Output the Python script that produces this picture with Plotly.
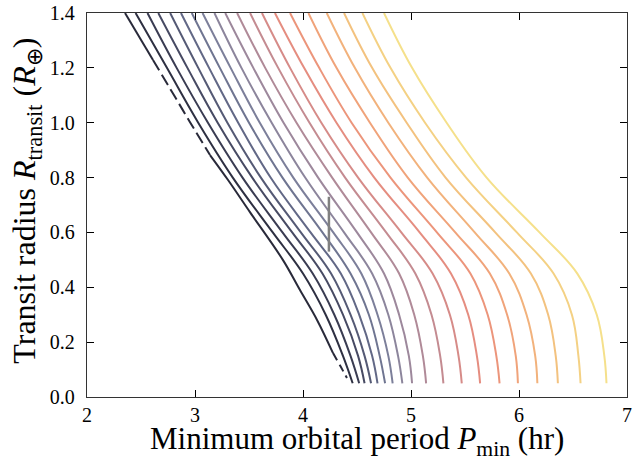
import plotly.graph_objects as go

# ---------------- data ----------------
# radius levels (R_earth) at which each curve's period was read
radius_levels = [1.4, 1.2, 1.0, 0.8, 0.6, 0.45, 0.3, 0.15, 0.05]

# leftmost (darkest) curve, read point by point (it is broken into dashes)
c00_period = [2.352, 2.611, 2.806, 2.954, 3.139, 3.306, 3.509, 3.815, 3.972, 4.130, 4.278, 4.350, 4.407]
c00_radius = [1.40, 1.229, 1.10, 1.002, 0.882, 0.791, 0.674, 0.499, 0.390, 0.281, 0.160, 0.110, 0.069]

c01 = [2.45, 2.74, 3.03, 3.35, 3.72, 4.00, 4.21, 4.37, 4.46]
c02 = [2.56, 2.83, 3.12, 3.44, 3.81, 4.09, 4.29, 4.44, 4.52]
c03 = [2.66, 2.93, 3.21, 3.53, 3.90, 4.18, 4.37, 4.51, 4.57]
c04 = [2.77, 3.03, 3.30, 3.61, 3.98, 4.26, 4.44, 4.57, 4.63]
c05 = [2.87, 3.13, 3.40, 3.70, 4.07, 4.35, 4.52, 4.64, 4.69]
c06 = [2.97, 3.23, 3.50, 3.81, 4.18, 4.44, 4.61, 4.71, 4.76]
c07 = [3.07, 3.33, 3.60, 3.91, 4.28, 4.54, 4.69, 4.79, 4.83]
c08 = [3.18, 3.43, 3.71, 4.02, 4.38, 4.64, 4.79, 4.88, 4.92]
c09 = [3.28, 3.54, 3.82, 4.14, 4.50, 4.75, 4.89, 4.98, 5.01]
c10 = [3.39, 3.65, 3.94, 4.27, 4.63, 4.89, 5.03, 5.11, 5.14]
c11 = [3.51, 3.77, 4.06, 4.39, 4.77, 5.04, 5.19, 5.27, 5.30]
c12 = [3.62, 3.88, 4.17, 4.51, 4.91, 5.20, 5.36, 5.44, 5.47]
c13 = [3.74, 4.01, 4.31, 4.66, 5.08, 5.37, 5.53, 5.61, 5.64]
c14 = [3.88, 4.15, 4.45, 4.81, 5.24, 5.55, 5.71, 5.79, 5.82]
c15 = [4.05, 4.31, 4.62, 4.97, 5.41, 5.73, 5.89, 5.97, 5.99]
c16 = [4.22, 4.48, 4.79, 5.15, 5.59, 5.91, 6.07, 6.15, 6.17]
c17 = [4.38, 4.64, 4.96, 5.32, 5.78, 6.11, 6.27, 6.34, 6.36]
c18 = [4.55, 4.81, 5.13, 5.51, 5.98, 6.32, 6.49, 6.55, 6.57]
c19 = [4.75, 5.01, 5.33, 5.70, 6.19, 6.54, 6.72, 6.79, 6.81]

# observed planet (period in hr, radius and its uncertainty in R_earth)
planet_period = [4.24]
planet_radius = [0.63]
planet_radius_err = [0.10]

x_ticks = [2, 3, 4, 5, 6, 7]
y_ticks = [0.0, 0.2, 0.4, 0.6, 0.8, 1.0, 1.2, 1.4]
y_tick_labels = ["0.0", "0.2", "0.4", "0.6", "0.8", "1.0", "1.2", "1.4"]

# ---------------- styles ----------------
colors = ["#292a3a", "#2e3042", "#3a3c52", "#474a63", "#555a75", "#626886",
          "#6f7591", "#7c7f9a", "#8c859c", "#9d889c", "#b08a98", "#c48b91",
          "#d68b88", "#e58d80", "#ec957b", "#f0a37a", "#f2b27c", "#f3c27f",
          "#f4d184", "#f5e08b"]
LW = 2.0
FONT = "Liberation Serif"

fig = go.Figure()

# leftmost curve: solid / dashed pieces
segments = [(0, 2, "solid"), (1, 5, "12px,5px"), (4, 11, "solid"), (10, 13, "8px,5px")]
for a, b, dash in segments:
    fig.add_trace(go.Scatter(
        x=c00_period[a:b], y=c00_radius[a:b], mode="lines",
        line=dict(color=colors[0], width=LW, dash=dash, shape="spline", smoothing=1.0),
        hoverinfo="skip"))

other_curves = [c01, c02, c03, c04, c05, c06, c07, c08, c09, c10,
                c11, c12, c13, c14, c15, c16, c17, c18, c19]
for i, xs in enumerate(other_curves, start=1):
    fig.add_trace(go.Scatter(
        x=xs, y=radius_levels, mode="lines",
        line=dict(color=colors[i], width=LW, shape="spline", smoothing=1.1),
        hoverinfo="skip"))

fig.add_trace(go.Scatter(
    x=planet_period, y=planet_radius, mode="markers",
    marker=dict(size=1, color="rgba(0,0,0,0)"),
    error_y=dict(type="data", array=planet_radius_err, color="#808080",
                 thickness=2.5, width=0),
    hoverinfo="skip"))

axis_common = dict(
    ticks="inside", ticklen=7, tickwidth=1, tickcolor="black",
    showline=True, linecolor="#333333", linewidth=1.3, mirror="ticks",
    showgrid=False, zeroline=False, automargin=False,
    tickfont=dict(family=FONT, size=20, color="black"),
)

fig.update_layout(
    width=642, height=460,
    margin=dict(l=87, r=15, t=13, b=63),
    plot_bgcolor="white", paper_bgcolor="white",
    showlegend=False,
    font=dict(family=FONT, color="black"),
    xaxis=dict(range=[2, 7], tickvals=x_ticks, ticklabelstandoff=0, **axis_common),
    yaxis=dict(range=[0, 1.4], tickvals=y_ticks, ticktext=y_tick_labels,
               ticklabelstandoff=7, **axis_common),
    annotations=[
        dict(text="Minimum orbital period <i>P</i><sub>min</sub> (hr)",
             xref="paper", yref="paper", x=0.5, y=-0.114,
             xanchor="center", yanchor="middle", showarrow=False,
             font=dict(family=FONT, size=31, color="black")),
        dict(text="Transit radius <i>R</i><sub>transit</sub> (<i>R</i><sub>⊕</sub>)",
             xref="paper", yref="paper", x=-0.112, y=0.51, textangle=-90,
             xanchor="center", yanchor="middle", showarrow=False,
             font=dict(family=FONT, size=32, color="black")),
    ],
)

fig.write_html("out.html", config={"displayModeBar": False},
               post_script="document.body.style.margin='0';")
